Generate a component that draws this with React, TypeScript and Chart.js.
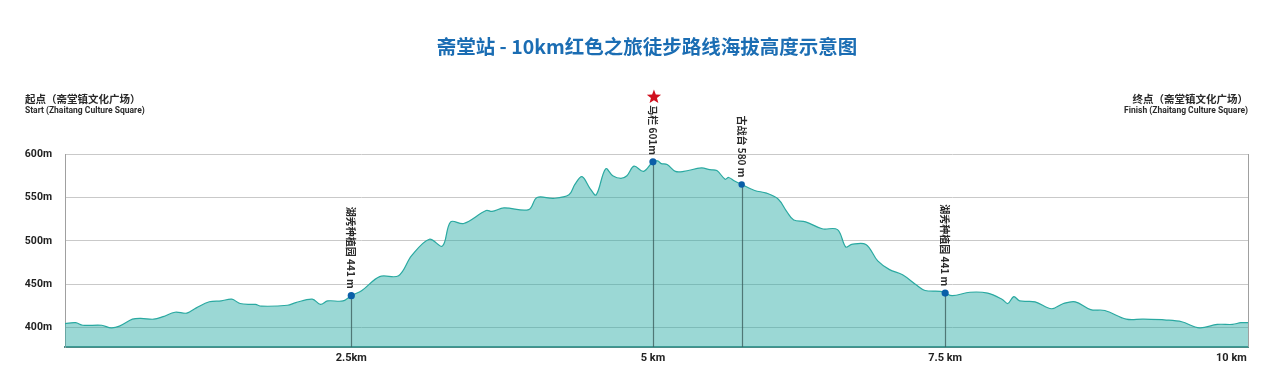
import { useEffect, useRef } from "react";
import { Chart, registerables } from "chart.js";

Chart.register(...registerables);

const TITLE = "斋堂站 - 10km红色之旅徒步路线海拔高度示意图";
const START_CN = "起点（斋堂镇文化广场）";
const START_EN = "Start (Zhaitang Culture Square)";
const FINISH_CN = "终点（斋堂镇文化广场）";
const FINISH_EN = "Finish (Zhaitang Culture Square)";

const distKm = [
  0, 0.09, 0.15, 0.31, 0.39, 0.46, 0.57, 0.64, 0.75, 0.83,
  0.93, 1.03, 1.11, 1.22, 1.32, 1.41, 1.48, 1.58, 1.61, 1.66,
  1.88, 1.95, 2.09, 2.16, 2.22, 2.35, 2.42, 2.51, 2.66, 2.82,
  2.93, 3.08, 3.19, 3.26, 3.37, 3.56, 3.61, 3.71, 3.92, 3.99,
  4.13, 4.26, 4.31, 4.37, 4.44, 4.49, 4.57, 4.63, 4.7, 4.75,
  4.81, 4.89, 4.97,
  5.01, 5.04, 5.09, 5.16, 5.23, 5.38, 5.45, 5.51, 5.58, 5.61,
  5.66, 5.72, 5.83, 5.93, 6.03, 6.1, 6.16, 6.26, 6.4, 6.53,
  6.6, 6.65, 6.77, 6.87, 6.97, 7.08, 7.2, 7.27, 7.4, 7.44,
  7.5, 7.65, 7.8, 7.92, 7.97, 8.02, 8.07, 8.2, 8.34, 8.44,
  8.54, 8.67, 8.79, 8.97, 9.11, 9.31, 9.44, 9.59, 9.74, 9.87,
  9.94, 10.0,
];

const elevM = [
  405, 406, 403, 403, 400, 402, 410, 411, 410, 413,
  418, 417, 423, 430, 431, 433, 428, 427, 427, 425,
  426, 429, 433, 427, 431, 431, 437, 443, 459, 460,
  483, 502, 494, 522, 520, 535, 534, 538, 536, 550,
  549, 553, 565, 574, 560, 553, 583, 575, 572, 575,
  586, 580, 591,
  592, 589, 588, 580, 580, 584, 582, 581, 571, 573,
  569, 565, 558, 555, 548, 534, 524, 522, 514, 513,
  493, 496, 496, 477, 467, 461, 449, 443, 442, 440,
  437, 441, 440, 433, 428, 436, 431, 430, 422, 428,
  430, 421, 420, 410, 410, 409, 407, 400, 404, 404,
  406, 406,
];

const yTicks = [400, 450, 500, 550, 600];
const xTickKm = [2.42, 4.97, 7.44, 9.86];
const xTickLabels = ["2.5km", "5 km", "7.5 km", "10 km"];

const markerKm = [2.42, 4.97, 5.72, 7.44];
const markerElev = [437, 591, 565, 440];
const markerLabels = ["湖秀种植园 441 m", "马栏 601m", "古战台 580 m", "湖秀种植园 441 m"];
const peakIndex = 1;

const CJK = "'Noto Sans CJK SC', 'Noto Sans', sans-serif";
const LATIN = "Roboto, 'Noto Sans', sans-serif";

function drawStar(ctx: CanvasRenderingContext2D, cx: number, cy: number, r: number) {
  const inner = r * 0.42;
  ctx.beginPath();
  for (let i = 0; i < 10; i++) {
    const rad = i % 2 === 0 ? r : inner;
    const a = -Math.PI / 2 + (i * Math.PI) / 5;
    const px = cx + rad * Math.cos(a);
    const py = cy + rad * Math.sin(a);
    if (i === 0) ctx.moveTo(px, py);
    else ctx.lineTo(px, py);
  }
  ctx.closePath();
  ctx.fill();
}

const overlayPlugin = {
  id: "overlay",
  afterDatasetDraw(chart: any, args: any) {
    if (args.index !== 0) return;
    const { ctx, chartArea, scales } = chart;
    const x = scales.x;
    const y = scales.y;
    ctx.save();
    ctx.strokeStyle = "rgba(60,95,95,0.8)";
    ctx.lineWidth = 1.2;
    markerKm.forEach((k, i) => {
      const px = Math.round(x.getPixelForValue(k)) + 0.5;
      ctx.beginPath();
      ctx.moveTo(px, y.getPixelForValue(markerElev[i]));
      ctx.lineTo(px, chartArea.bottom);
      ctx.stroke();
    });
    ctx.restore();
  },
  afterDraw(chart: any) {
    const { ctx, chartArea, scales } = chart;
    const x = scales.x;
    const y = scales.y;
    ctx.save();
    // right frame line
    ctx.strokeStyle = "#a0a0a0";
    ctx.lineWidth = 1;
    ctx.beginPath();
    ctx.moveTo(Math.round(chartArea.right) + 0.5, chartArea.top);
    ctx.lineTo(Math.round(chartArea.right) + 0.5, chartArea.bottom);
    ctx.stroke();

    // title
    ctx.fillStyle = "#1b6db3";
    ctx.font = `bold 19.5px ${CJK}`;
    ctx.textAlign = "center";
    ctx.textBaseline = "middle";
    ctx.fillText(TITLE, 647, 47);

    // start / finish headers
    ctx.fillStyle = "#2a2a2a";
    ctx.textBaseline = "middle";
    ctx.font = `bold 10.5px ${CJK}`;
    ctx.textAlign = "left";
    ctx.fillText(START_CN, 25, 99);
    ctx.textAlign = "right";
    ctx.fillText(FINISH_CN, 1248, 99);
    ctx.font = `bold 8.5px ${LATIN}`;
    ctx.textAlign = "left";
    ctx.fillText(START_EN, 25, 111);
    ctx.textAlign = "right";
    ctx.fillText(FINISH_EN, 1248, 111);

    // rotated marker labels
    ctx.fillStyle = "#2b2b2b";
    ctx.font = `bold 10px ${CJK}`;
    markerKm.forEach((k, i) => {
      const px = x.getPixelForValue(k);
      const py = y.getPixelForValue(markerElev[i]);
      ctx.save();
      ctx.translate(px, py - 7);
      ctx.rotate(Math.PI / 2);
      ctx.textAlign = "right";
      ctx.textBaseline = "middle";
      ctx.fillText(markerLabels[i], 0, 0);
      ctx.restore();
    });

    // star above the peak
    const sx = x.getPixelForValue(markerKm[peakIndex]) + 1;
    ctx.fillStyle = "#d0101e";
    drawStar(ctx, sx, 97, 7.5);
    ctx.restore();
  },
};

export default function App() {
  const canvasRef = useRef<HTMLCanvasElement | null>(null);

  useEffect(() => {
    const canvas = canvasRef.current;
    if (!canvas) return;
    const chart = new Chart(canvas, {
      type: "line",
      data: {
        datasets: [
          {
            data: distKm.map((k, i) => ({ x: k, y: elevM[i] })),
            borderColor: "#2aa9a1",
            borderWidth: 1.2,
            backgroundColor: "rgba(42,173,165,0.47)",
            fill: "start",
            pointRadius: 0,
            tension: 0.35,
            order: 2,
          },
          {
            data: markerKm.map((k, i) => ({ x: k, y: markerElev[i] })),
            showLine: false,
            pointRadius: [3.6, 3.6, 3.2, 3.6],
            pointBackgroundColor: "#0a5fa8",
            pointBorderWidth: 0,
            borderColor: "#0a5fa8",
            order: 1,
          } as any,
        ],
      },
      options: {
        responsive: false,
        animation: false,
        events: [],
        layout: { padding: { top: 154, right: 23, left: 0, bottom: 0 } },
        plugins: {
          legend: { display: false },
          tooltip: { enabled: false },
          title: { display: false },
        },
        scales: {
          x: {
            type: "linear",
            min: 0,
            max: 10,
            afterFit: (s: any) => {
              s.height = 23;
            },
            afterBuildTicks: (s: any) => {
              s.ticks = xTickKm.map((v) => ({ value: v }));
            },
            ticks: {
              callback: (_v: any, i: number) => xTickLabels[i],
              font: { family: LATIN, weight: "bold", size: 11 },
              color: "#222",
              padding: 5,
              maxRotation: 0,
              autoSkip: false,
            },
            grid: { display: false, drawTicks: false },
            border: { display: true, color: "#4a8c87", width: 2 },
          },
          y: {
            type: "linear",
            min: 378,
            max: 600,
            afterFit: (s: any) => {
              s.width = 65;
            },
            afterBuildTicks: (s: any) => {
              s.ticks = yTicks.map((v) => ({ value: v }));
            },
            ticks: {
              callback: (v: any) => `${v}m`,
              font: { family: LATIN, weight: "bold", size: 10.5 },
              color: "#222",
              padding: 13,
            },
            grid: { color: "#c9c9c9", lineWidth: 1, drawTicks: false },
            border: { display: true, color: "#a0a0a0", width: 1 },
          },
        },
      },
      plugins: [overlayPlugin],
    });
    return () => chart.destroy();
  }, []);

  return (
    <div style={{ position: "absolute", left: 0, top: 0, width: 1271, height: 370, background: "#fff" }}>
      <canvas ref={canvasRef} width={1271} height={370} style={{ display: "block" }} />
    </div>
  );
}
